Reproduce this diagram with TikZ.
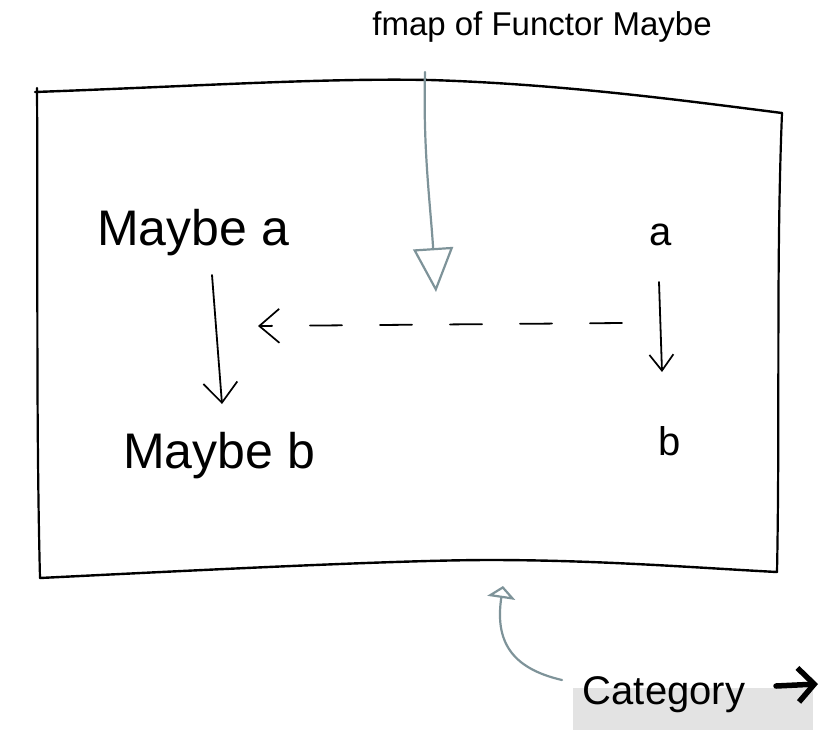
\documentclass[tikz,border=0pt]{standalone}
\usepackage{fontspec}
\setmainfont{Liberation Sans}
\usetikzlibrary{arrows.meta}
\definecolor{slate}{HTML}{7E9399}
\definecolor{hl}{HTML}{E3E3E3}
\tikzset{
  ink/.style={line width=1.8pt, line cap=round, line join=round},
  vhead/.style={-{Straight Barb[length=20pt,width=34pt,line width=1.7pt]}},
  shead/.style={-{Straight Barb[length=16pt,width=24pt,line width=1.7pt]}},
  lbl/.style={inner sep=0pt, anchor=base, font=\fontsize{50}{52}\selectfont},
  sml/.style={inner sep=0pt, anchor=base, font=\fontsize{40}{42}\selectfont},
  ttl/.style={inner sep=0pt, anchor=base, font=\fontsize{33}{35}\selectfont},
}
\begin{document}
\begin{tikzpicture}[x=1pt,y=-1pt]
\useasboundingbox (0,0) rectangle (840,742);
% frame
\draw[ink, line width=2.4pt] (35,92) .. controls (200,86) and (320,78) .. (430,80)
   .. controls (560,84) and (680,100) .. (782,113);
\draw[ink, line width=2.2pt] (37,88) .. controls (38,250) and (36,420) .. (40,578);
\draw[ink, line width=2.2pt] (782,113) .. controls (776,260) and (780,420) .. (777,572);
\draw[ink, line width=2.4pt] (40,578) .. controls (200,570) and (400,560) .. (490,560)
   .. controls (600,560) and (700,568) .. (777,572);
% texts
\node[ttl] (title) at (542,35) {fmap of Functor Maybe};
\node[lbl] (ma) at (193,245) {Maybe a};
\node[lbl] (mb) at (219,468) {Maybe b};
\node[sml] (a) at (661,245) {a};
\node[sml] (b) at (670,455) {b};
% category label
\fill[hl] (573,688) rectangle (813,730);
\node[sml] (cat) at (664,704) {Category};
\coordinate (catarrA) at (776,686);
\coordinate (catarrB) at (818,684);
\draw[line width=5.5pt, line cap=round, -{Straight Barb[length=16pt,width=34pt,line width=5.5pt]}] (catarrA) -- (catarrB);
% arrows
\coordinate (maS) at (212,275);
\coordinate (mbN) at (222,404);
\coordinate (aS) at (659,282);
\coordinate (bN) at (662,372);
\coordinate (dR) at (622,323);
\coordinate (dL) at (258,326);
\draw[ink, vhead] (maS) -- (mbN);
\draw[ink, shead] (aS) -- (bN);
\draw[ink, vhead, dash pattern=on 32pt off 38pt] (dR) -- (dL);
% gray annotations
\coordinate (ftop) at (425,72);
\coordinate (ftip) at (436,292);
\draw[slate, line width=2.2pt, line cap=round, -{Triangle[open,length=44pt,width=40pt,line width=2.2pt]}]
  (ftop) .. controls (423,150) and (430,200) .. (ftip);
\coordinate (cstart) at (562,680);
\coordinate (ctip) at (503,586);
\draw[slate, line width=2.2pt, line cap=round, -{Triangle[open,length=12pt,width=28pt,line width=2.2pt]}]
  (cstart) .. controls (510,668) and (495,640) .. (ctip);
\end{tikzpicture}
\end{document}
